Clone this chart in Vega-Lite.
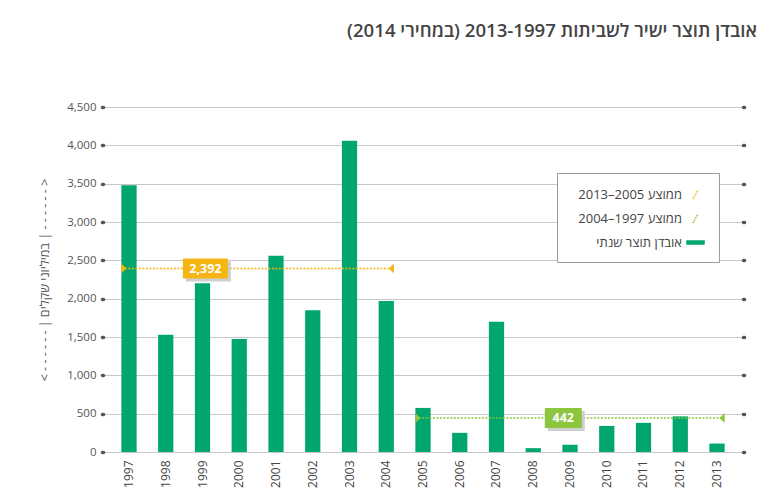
{
  "$schema": "https://vega.github.io/schema/vega-lite/v6.json",
  "width": 640,
  "height": 345,
  "autosize": {"type": "none"},
  "padding": {"left": 103, "top": 107, "right": 28, "bottom": 39},
  "background": "white",
  "config": {"font": "Open Sans", "view": {"stroke": null}},
  "title": {
    "text": "אובדן תוצר ישיר לשביתות 2013-1997 (במחירי 2014)‏",
    "anchor": "end",
    "frame": "group",
    "dx": 14,
    "offset": 45,
    "baseline": "alphabetic",
    "fontSize": 18.6,
    "fontWeight": 600,
    "color": "#444444",
    "font": "Open Sans"
  },
  "datasets": {
    "bars": [
      {"year": "1997", "value": 3480, "series": "אובדן תוצר שנתי"},
      {"year": "1998", "value": 1530, "series": "אובדן תוצר שנתי"},
      {"year": "1999", "value": 2200, "series": "אובדן תוצר שנתי"},
      {"year": "2000", "value": 1475, "series": "אובדן תוצר שנתי"},
      {"year": "2001", "value": 2560, "series": "אובדן תוצר שנתי"},
      {"year": "2002", "value": 1850, "series": "אובדן תוצר שנתי"},
      {"year": "2003", "value": 4060, "series": "אובדן תוצר שנתי"},
      {"year": "2004", "value": 1970, "series": "אובדן תוצר שנתי"},
      {"year": "2005", "value": 575, "series": "אובדן תוצר שנתי"},
      {"year": "2006", "value": 250, "series": "אובדן תוצר שנתי"},
      {"year": "2007", "value": 1700, "series": "אובדן תוצר שנתי"},
      {"year": "2008", "value": 50, "series": "אובדן תוצר שנתי"},
      {"year": "2009", "value": 95, "series": "אובדן תוצר שנתי"},
      {"year": "2010", "value": 340, "series": "אובדן תוצר שנתי"},
      {"year": "2011", "value": 380, "series": "אובדן תוצר שנתי"},
      {"year": "2012", "value": 465, "series": "אובדן תוצר שנתי"},
      {"year": "2013", "value": 110, "series": "אובדן תוצר שנתי"}
    ],
    "avg": [
      {"series": "ממוצע 1997–2004", "start": "1997", "end": "2004", "value": 2392, "label": "2,392", "labelYear": "1999"},
      {"series": "ממוצע 2005–2013", "start": "2005", "end": "2013", "value": 442, "label": "442", "labelYear": "2009"}
    ]
  },
  "resolve": {"axis": {"y": "independent"}},
  "layer": [
    {
      "data": {"name": "bars"},
      "mark": {"type": "bar"},
      "encoding": {
        "x": {
          "field": "year",
          "type": "ordinal",
          "title": null,
          "scale": {"paddingInner": 0.585, "paddingOuter": 0.5},
          "axis": {
            "labelAngle": 270,
            "labelAlign": "right",
            "labelBaseline": "middle",
            "labelPadding": 8,
            "labelFontSize": 12,
            "labelColor": "#444444",
            "ticks": false,
            "domain": false,
            "grid": false
          }
        },
        "y": {
          "field": "value",
          "type": "quantitative",
          "title": "< - - - - - - |  במיליוני שקלים  | - - - - - - >",
          "scale": {"domain": [0, 4500], "nice": false},
          "axis": {
            "values": [0, 500, 1000, 1500, 2000, 2500, 3000, 3500, 4000, 4500],
            "format": ",d",
            "grid": true,
            "gridColor": "#c8c8c8",
            "gridWidth": 1,
            "domain": false,
            "tickSize": 1,
            "tickWidth": 3.5,
            "tickCap": "round",
            "tickColor": "#555555",
            "labelPadding": 6,
            "labelFontSize": 11.5,
            "labelColor": "#555555",
            "titleFontSize": 12.5,
            "titleColor": "#555555",
            "titleFontWeight": "normal",
            "titlePadding": 15
          }
        },
        "color": {
          "field": "series",
          "type": "nominal",
          "scale": {
            "domain": ["ממוצע 1997–2004", "ממוצע 2005–2013", "אובדן תוצר שנתי"],
            "range": ["#f5b512", "#8cc63f", "#00a66e"]
          },
          "legend": {
            "orient": "none",
            "legendX": 454,
            "legendY": 66,
            "title": null,
            "strokeColor": "#9a9a9a",
            "fillColor": "white",
            "padding": 12,
            "labelFont": "Open Sans",
            "labelFontSize": 13,
            "labelColor": "#444444",
            "labelAlign": "right",
            "labelOffset": -23,
            "symbolOffset": 117,
            "symbolSize": 289,
            "symbolStrokeWidth": 1.5,
            "rowPadding": 6,
            "labelExpr": "datum.index === 0 ? 'ממוצע 2005–2013' : datum.index === 1 ? 'ממוצע 1997–2004' : datum.label",
            "encode": {
              "symbols": {
                "update": {
                  "shape": {"signal": "datum.index === 2 ? 'M-1,-0.18H1V0.18H-1Z' : 'M-0.3,0.53L0.3,-0.53'"},
                  "fill": {"signal": "datum.index === 2 ? '#00a66e' : 'transparent'"},
                  "stroke": {"signal": "datum.index === 2 ? 'transparent' : scale('color', datum.value)"},
                  "strokeDash": {"signal": "datum.index === 2 ? [] : [1.5, 1]"},
                  "strokeWidth": {"value": 1.5},
                  "opacity": {"value": 1}
                }
              }
            }
          }
        }
      }
    },
    {
      "data": {"name": "avg"},
      "mark": {"type": "rule", "strokeDash": [2, 1.5], "strokeWidth": 1.5},
      "encoding": {
        "x": {"field": "start", "type": "ordinal", "title": null, "bandPosition": 0},
        "x2": {"field": "end", "bandPosition": 1},
        "y": {
          "field": "value",
          "type": "quantitative",
          "axis": {
            "orient": "right",
            "values": [0, 500, 1000, 1500, 2000, 2500, 3000, 3500, 4000, 4500],
            "labels": false,
            "title": null,
            "domain": false,
            "grid": false,
            "tickSize": 1,
            "tickWidth": 3.5,
            "tickCap": "round",
            "tickColor": "#555555"
          }
        },
        "color": {"field": "series", "type": "nominal"}
      }
    },
    {
      "data": {"name": "avg"},
      "mark": {"type": "point", "filled": true, "opacity": 1, "size": 100, "shape": "M-0.5,-1L0.5,0L-0.5,1Z", "xOffset": 2.5},
      "encoding": {
        "x": {"field": "start", "type": "ordinal", "title": null, "bandPosition": 0},
        "y": {"field": "value", "type": "quantitative", "axis": null},
        "color": {"field": "series", "type": "nominal"}
      }
    },
    {
      "data": {"name": "avg"},
      "mark": {"type": "point", "filled": true, "opacity": 1, "size": 100, "shape": "M0.5,-1L-0.5,0L0.5,1Z", "xOffset": -2.5},
      "encoding": {
        "x": {"field": "end", "type": "ordinal", "title": null, "bandPosition": 1},
        "y": {"field": "value", "type": "quantitative", "axis": null},
        "color": {"field": "series", "type": "nominal"}
      }
    },
    {
      "data": {"name": "avg"},
      "transform": [{"filter": "datum.start === '1997'"}],
      "encoding": {
        "x": {"field": "labelYear", "type": "ordinal", "title": null, "bandPosition": 0.69},
        "y": {"field": "value", "type": "quantitative", "axis": null}
      },
      "layer": [
        {"mark": {"type": "point", "filled": true, "opacity": 1, "size": 2025, "shape": "M-1,-0.444H1V0.444H-1Z", "color": "#cfcfcf", "xOffset": 3, "yOffset": 3}},
        {"mark": {"type": "point", "filled": true, "opacity": 1, "size": 2025, "shape": "M-1,-0.444H1V0.444H-1Z"}, "encoding": {"color": {"field": "series", "type": "nominal"}}},
        {"mark": {"type": "text", "color": "white", "fontWeight": "bold", "fontSize": 12.5, "align": "center", "baseline": "middle"}, "encoding": {"text": {"field": "label"}}}
      ]
    },
    {
      "data": {"name": "avg"},
      "transform": [{"filter": "datum.start === '2005'"}],
      "encoding": {
        "x": {"field": "labelYear", "type": "ordinal", "title": null, "bandPosition": 0.06},
        "y": {"field": "value", "type": "quantitative", "axis": null}
      },
      "layer": [
        {"mark": {"type": "point", "filled": true, "opacity": 1, "size": 1369, "shape": "M-1,-0.54H1V0.54H-1Z", "color": "#cfcfcf", "xOffset": 3, "yOffset": 3}},
        {"mark": {"type": "point", "filled": true, "opacity": 1, "size": 1369, "shape": "M-1,-0.54H1V0.54H-1Z"}, "encoding": {"color": {"field": "series", "type": "nominal"}}},
        {"mark": {"type": "text", "color": "white", "fontWeight": "bold", "fontSize": 12.5, "align": "center", "baseline": "middle"}, "encoding": {"text": {"field": "label"}}}
      ]
    }
  ]
}
